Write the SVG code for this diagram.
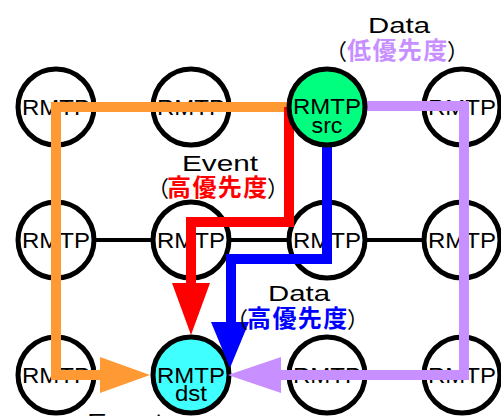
<svg xmlns="http://www.w3.org/2000/svg" width="501" height="416" viewBox="0 0 501 416">
<style>
.node circle{stroke:#000;stroke-width:5;fill:#fff}
.lbl{font-family:"Liberation Sans",Arial,sans-serif;font-size:22px;fill:#000;text-anchor:middle}
.cap{font-family:"Liberation Sans","Noto Sans CJK JP",sans-serif;font-size:22px;fill:#000;text-anchor:middle}
.jp{font-family:"Noto Sans CJK JP","Noto Sans CJK SC",sans-serif;font-size:22px;fill:#000}
.jp tspan.b{font-weight:bold;font-size:24px;letter-spacing:1.4px}
.grid{stroke:#000;stroke-width:4;fill:none}
.route{fill:none;stroke-width:10;stroke-linejoin:miter;stroke-linecap:butt}
</style>
<g id="grid-lines"><line class="grid" x1="56" y1="240" x2="462" y2="240"/></g>
<g id="n11" class="node"><circle cx="56" cy="107" r="38"/><text class="lbl" x="56" y="115" textLength="68" lengthAdjust="spacingAndGlyphs">RMTP</text></g>
<g id="n12" class="node"><circle cx="191" cy="107" r="38"/><text class="lbl" x="191" y="115" textLength="68" lengthAdjust="spacingAndGlyphs">RMTP</text></g>
<g id="n14" class="node"><circle cx="462" cy="107" r="38"/><text class="lbl" x="462" y="115" textLength="68" lengthAdjust="spacingAndGlyphs">RMTP</text></g>
<g id="n21" class="node"><circle cx="56" cy="240" r="38"/><text class="lbl" x="56" y="248" textLength="68" lengthAdjust="spacingAndGlyphs">RMTP</text></g>
<g id="n22" class="node"><circle cx="191" cy="240" r="38"/><text class="lbl" x="191" y="248" textLength="68" lengthAdjust="spacingAndGlyphs">RMTP</text></g>
<g id="n23" class="node"><circle cx="327" cy="240" r="38"/><text class="lbl" x="327" y="248" textLength="68" lengthAdjust="spacingAndGlyphs">RMTP</text></g>
<g id="n24" class="node"><circle cx="462" cy="240" r="38"/><text class="lbl" x="462" y="248" textLength="68" lengthAdjust="spacingAndGlyphs">RMTP</text></g>
<g id="n31" class="node"><circle cx="56" cy="375" r="38"/><text class="lbl" x="56" y="383" textLength="68" lengthAdjust="spacingAndGlyphs">RMTP</text></g>
<g id="n33" class="node"><circle cx="327" cy="375" r="38"/><text class="lbl" x="327" y="383" textLength="68" lengthAdjust="spacingAndGlyphs">RMTP</text></g>
<g id="n34" class="node"><circle cx="462" cy="375" r="38"/><text class="lbl" x="462" y="383" textLength="68" lengthAdjust="spacingAndGlyphs">RMTP</text></g>
<g id="dst" class="node"><circle cx="191" cy="375" r="38" style="fill:#40ffff"/><text class="lbl" x="191" y="383" textLength="68" lengthAdjust="spacingAndGlyphs">RMTP</text><text class="lbl" x="191" y="401" textLength="32" lengthAdjust="spacingAndGlyphs">dst</text></g>
<g id="connectors">
<path class="route" stroke="#ff9933" d="M287,107 H56 V375 H101"/>
<polygon fill="#ff9933" points="100,357 150,375 100,393"/>
<path class="route" stroke="#ff0000" d="M289,107 V222 H191 V284"/>
<polygon fill="#ff0000" points="172,283 210,283 191,335"/>
<path class="route" stroke="#0000ff" d="M327,146 V259 H231 V323"/>
<polygon fill="#0000ff" points="211,322 249,322 230,368"/>
<path class="route" stroke="#c78fff" d="M367,106 H464 V375 H280"/>
<polygon fill="#c78fff" points="281,357 228,375 281,393"/>
</g>
<g id="src" class="node"><circle cx="327" cy="107" r="38" style="fill:#00ff7f"/><text class="lbl" x="327" y="114" textLength="68" lengthAdjust="spacingAndGlyphs">RMTP</text><text class="lbl" x="327" y="133" textLength="31" lengthAdjust="spacingAndGlyphs">src</text></g>
<g id="labels">
<text class="cap" x="399" y="33" textLength="62" lengthAdjust="spacingAndGlyphs">Data</text>
<text class="jp" y="59"><tspan x="325">（</tspan><tspan class="b" x="347" fill="#c78fff">低優先度</tspan><tspan x="447">）</tspan></text>
<text class="cap" x="220" y="171" textLength="76" lengthAdjust="spacingAndGlyphs">Event</text>
<text class="jp" y="196"><tspan x="147">（</tspan><tspan class="b" x="167" fill="#ff0000">高優先度</tspan><tspan x="267">）</tspan></text>
<text class="cap" x="299" y="301" textLength="62" lengthAdjust="spacingAndGlyphs">Data</text>
<text class="jp" y="327"><tspan x="226">（</tspan><tspan class="b" x="247" fill="#0000ff">高優先度</tspan><tspan x="347">）</tspan></text>
<text class="cap" x="125" y="429" textLength="76" lengthAdjust="spacingAndGlyphs">Event</text>
</g>
</svg>
